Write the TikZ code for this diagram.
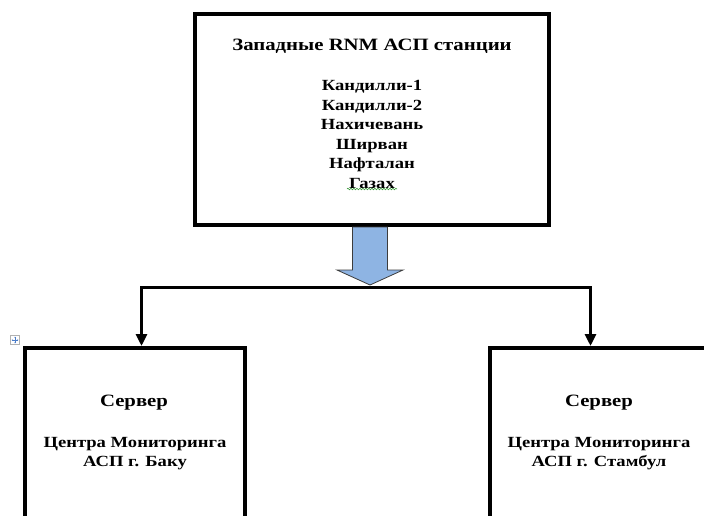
\documentclass[tikz,border=0pt]{standalone}
\usepackage{fontspec}
\setmainfont{Liberation Serif}[FakeStretch=1.2]
\usetikzlibrary{arrows.meta,decorations.pathmorphing}

\definecolor{arrowblue}{HTML}{8EB4E3}
\definecolor{arrowedge}{HTML}{3C3C3C}
\definecolor{spellgreen}{HTML}{3A9A3A}
\definecolor{handleblue}{HTML}{4A7CC9}

\begin{document}
\begin{tikzpicture}[x=1pt,y=-1pt,
  box/.style={draw=black,line width=4pt,fill=white,inner sep=0pt},
  txt/.style={font=\fontsize{15.5}{19.6}\selectfont\bfseries,align=center,inner sep=0pt},
  titletxt/.style={font=\fontsize{17.3}{20}\selectfont\bfseries,inner sep=0pt},
  conn/.style={line width=3pt,-{Triangle[length=12pt,width=11pt]}},
  bigarrow/.style={fill=arrowblue,draw=arrowedge,line width=0.8pt,line join=miter},
]
\clip (0,0) rectangle (704,515);

% stations box
\node[box,minimum width=354pt,minimum height=211pt] (stations) at (372,119.5) {};
\node[titletxt,anchor=base] (title) at (372,50) {Западные RNM АСП станции};
\node[txt,anchor=north] (list) at (372,80)
  {Кандилли-1\\Кандилли-2\\Нахичевань\\Ширван\\Нафталан\\Газах};

% server boxes
\node[box,minimum width=220pt,minimum height=252pt] (baku) at (135,474) {};
\node[box,minimum width=330pt,minimum height=252pt] (istanbul) at (655,474) {};
\node[titletxt,anchor=base] (bakuhead) at (134,406) {Сервер};
\node[txt,anchor=north] (bakutxt) at (135,437)
  {Центра Мониторинга\\АСП г. Баку};
\node[titletxt,anchor=base] (isthead) at (599,406) {Сервер};
\node[txt,anchor=north] (isttxt) at (599,437)
  {Центра Мониторинга\\АСП г. Стамбул};

% branching connectors
\coordinate (split) at (370,287.5);
\coordinate (bakuin) at (141.5,346);
\coordinate (istin) at (590.5,346);
\draw[conn] (split) -| (bakuin);
\draw[conn] (split) -| (istin);

% block arrow from the stations box down to the branch line
\draw[bigarrow] (352.5,227) -- (387.5,227) -- (387.5,270) -- (403,270)
  -- (370,285) -- (337,270) -- (352.5,270) -- cycle;

% spell-check underline
\draw[spellgreen,line width=0.6pt,decorate,
  decoration={snake,amplitude=0.8pt,segment length=3pt}] (347,189) -- (397,189);

% table move handle
\node[draw=gray!60,fill=white,minimum size=9pt,inner sep=0pt] (handle) at (15,340) {};
\draw[handleblue,line width=0.5pt,{Stealth[length=1.5pt]}-{Stealth[length=1.5pt]}]
  ([xshift=-3.5pt]handle.center) -- ([xshift=3.5pt]handle.center);
\draw[handleblue,line width=0.5pt,{Stealth[length=1.5pt]}-{Stealth[length=1.5pt]}]
  ([yshift=-3.5pt]handle.center) -- ([yshift=3.5pt]handle.center);
\end{tikzpicture}
\end{document}
